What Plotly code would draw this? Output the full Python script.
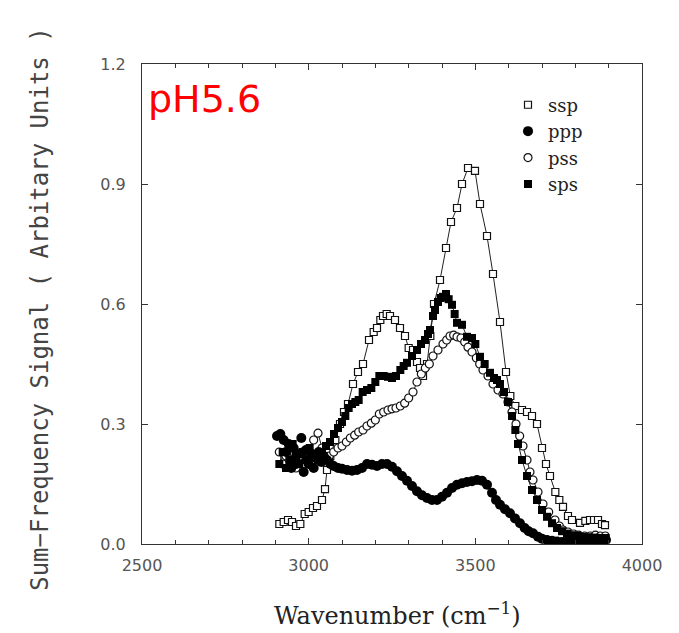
import plotly.graph_objects as go

# ssp (open squares, line)
ssp_x = [2912, 2925, 2938, 2950, 2962, 2975, 2988, 3000, 3013, 3025, 3040, 3049, 3055, 3065, 3080,
         3094, 3106, 3118, 3133, 3148, 3163, 3181, 3195, 3205, 3215, 3223, 3234, 3244, 3259, 3274,
         3289, 3300, 3313, 3325, 3334, 3343, 3355, 3365, 3376, 3394, 3412, 3427, 3445, 3460, 3478,
         3499, 3514, 3535, 3553, 3574, 3592, 3605, 3620, 3640, 3655, 3670, 3685, 3700, 3712, 3724,
         3740, 3752, 3763, 3778, 3790, 3814, 3830, 3844, 3856, 3868, 3880, 3889]
ssp_y = [0.050, 0.055, 0.060, 0.055, 0.045, 0.050, 0.075, 0.080, 0.090, 0.095, 0.110, 0.137, 0.185, 0.220, 0.260,
         0.300, 0.330, 0.350, 0.400, 0.430, 0.450, 0.510, 0.530, 0.540, 0.560, 0.570, 0.575, 0.570, 0.560, 0.540,
         0.520, 0.490, 0.485, 0.455, 0.440, 0.420, 0.450, 0.520, 0.600, 0.660, 0.740, 0.805, 0.840, 0.900, 0.940,
         0.933, 0.850, 0.770, 0.675, 0.555, 0.430, 0.370, 0.345, 0.335, 0.330, 0.320, 0.300, 0.240, 0.200, 0.170,
         0.130, 0.110, 0.093, 0.070, 0.060, 0.053, 0.058, 0.060, 0.060, 0.060, 0.050, 0.047]

# ppp (filled circles, no line)
ppp_x = [2905, 2915, 2925, 2932, 2940, 2948, 2955, 2962, 2970, 2978, 2985, 2992, 3000, 3008, 3015,
         3022, 3030, 3038, 3045, 3055, 3065, 3075, 3088, 3100, 3115, 3130, 3145, 3160, 3175, 3190,
         3205, 3220, 3235, 3250, 3265, 3280, 3295, 3310, 3325, 3340, 3355, 3370, 3385, 3400, 3415,
         3430, 3445, 3460, 3475, 3490, 3505, 3520, 3535, 3550, 3562, 3574, 3589, 3604, 3619, 3634,
         3648, 3660, 3673, 3688, 3700, 3715, 3730, 3745, 3760, 3775, 3790, 3805, 3820, 3835, 3850,
         3865, 3880, 3892]
ppp_y = [0.270, 0.275, 0.260, 0.230, 0.250, 0.190, 0.240, 0.200, 0.225, 0.265, 0.180, 0.235, 0.200, 0.225, 0.190,
         0.215, 0.230, 0.205, 0.220, 0.210, 0.200, 0.195, 0.190, 0.188, 0.185, 0.183, 0.185, 0.190, 0.200, 0.198,
         0.195, 0.200, 0.200, 0.193, 0.182, 0.170, 0.158, 0.145, 0.132, 0.122, 0.115, 0.110, 0.110, 0.118, 0.128,
         0.140, 0.148, 0.152, 0.155, 0.157, 0.160, 0.158, 0.148, 0.128, 0.110, 0.098, 0.087, 0.077, 0.064, 0.052,
         0.040, 0.032, 0.027, 0.018, 0.013, 0.010, 0.008, 0.006, 0.005, 0.006, 0.005, 0.007, 0.008, 0.006, 0.008,
         0.010, 0.012, 0.010]

# pss (open circles, line)
pss_x = [2912, 2922, 2932, 2942, 2952, 2962, 2972, 2982, 2992, 3003, 3015, 3028, 3040, 3050, 3062,
         3075, 3088, 3100, 3113, 3125, 3138, 3150, 3163, 3175, 3188, 3200, 3212, 3225, 3238, 3250,
         3262, 3275, 3288, 3300, 3313, 3325, 3338, 3350, 3362, 3373, 3388, 3403, 3414, 3424, 3435,
         3445, 3457, 3468, 3478, 3490, 3503, 3513, 3523, 3538, 3553, 3568, 3583, 3598, 3610, 3622,
         3633, 3643, 3655, 3664, 3673, 3688, 3703, 3720, 3739, 3752, 3763, 3778, 3795, 3810, 3828,
         3845, 3860, 3875, 3890]
pss_y = [0.230, 0.200, 0.220, 0.240, 0.210, 0.190, 0.220, 0.230, 0.210, 0.230, 0.260, 0.277, 0.240, 0.215, 0.220,
         0.230, 0.240, 0.245, 0.255, 0.265, 0.272, 0.280, 0.285, 0.295, 0.302, 0.310, 0.325, 0.330, 0.335, 0.338,
         0.340, 0.345, 0.352, 0.365, 0.380, 0.405, 0.425, 0.440, 0.450, 0.470, 0.485, 0.500, 0.510, 0.520, 0.522,
         0.518, 0.515, 0.505, 0.492, 0.480, 0.465, 0.450, 0.435, 0.420, 0.400, 0.385, 0.375, 0.355, 0.330, 0.300,
         0.270, 0.245, 0.210, 0.180, 0.160, 0.130, 0.100, 0.080, 0.060, 0.045, 0.035, 0.030, 0.025, 0.022, 0.020,
         0.020, 0.022, 0.020, 0.020]

# sps (filled squares, line)
sps_x = [2912, 2922, 2932, 2942, 2952, 2962, 2972, 2982, 2992, 3003, 3015, 3028, 3040, 3052, 3064,
         3076, 3088, 3100, 3110, 3120, 3130, 3140, 3150, 3162, 3175, 3188, 3200, 3212, 3225, 3238,
         3250, 3262, 3275, 3285, 3295, 3310, 3325, 3337, 3349, 3358, 3364, 3373, 3379, 3388, 3396,
         3403, 3412, 3420, 3430, 3438, 3445, 3460, 3475, 3490, 3500, 3514, 3528, 3544, 3556, 3565,
         3574, 3586, 3598, 3610, 3620, 3628, 3640, 3655, 3670, 3685, 3700, 3715, 3730, 3745, 3760,
         3775, 3790, 3805, 3820, 3840, 3860, 3875, 3890]
sps_y = [0.200, 0.230, 0.190, 0.210, 0.250, 0.220, 0.200, 0.230, 0.210, 0.240, 0.220, 0.210, 0.230, 0.245, 0.255,
         0.275, 0.290, 0.305, 0.320, 0.340, 0.350, 0.355, 0.360, 0.380, 0.385, 0.390, 0.405, 0.420, 0.420, 0.418,
         0.415, 0.420, 0.435, 0.445, 0.453, 0.470, 0.485, 0.500, 0.510, 0.525, 0.535, 0.570, 0.585, 0.605, 0.615,
         0.618, 0.625, 0.612, 0.598, 0.575, 0.553, 0.548, 0.518, 0.515, 0.500, 0.468, 0.450, 0.428, 0.415, 0.410,
         0.400, 0.380, 0.355, 0.320, 0.285, 0.250, 0.210, 0.170, 0.135, 0.110, 0.085, 0.068, 0.052, 0.040, 0.032,
         0.026, 0.022, 0.020, 0.018, 0.017, 0.016, 0.015, 0.015]

y_ticks = [0, 0.3, 0.6, 0.9, 1.2]
y_labels = ["0.0", "0.3", "0.6", "0.9", "1.2"]
x_ticks = [2500, 3000, 3500, 4000]

fig = go.Figure()

# connecting lines (not in legend)
for xs, ys in [(ssp_x, ssp_y), (pss_x, pss_y), (sps_x, sps_y)]:
    fig.add_trace(go.Scatter(x=xs, y=ys, mode='lines', line=dict(color='#222', width=1),
                             showlegend=False, hoverinfo='skip'))

fig.add_trace(go.Scatter(
    x=ssp_x, y=ssp_y, mode='markers', name='ssp', legendrank=1, legendgroup='a',
    marker=dict(symbol='square', size=7, color='white', line=dict(color='#111', width=1.2))))
fig.add_trace(go.Scatter(
    x=pss_x, y=pss_y, mode='markers', name='pss', legendrank=3, legendgroup='c',
    marker=dict(symbol='circle', size=8, color='white', line=dict(color='#111', width=1.2))))
fig.add_trace(go.Scatter(
    x=sps_x, y=sps_y, mode='markers', name='sps', legendrank=4, legendgroup='d',
    marker=dict(symbol='square', size=8, color='#000', line=dict(color='#000', width=0))))
fig.add_trace(go.Scatter(
    x=ppp_x, y=ppp_y, mode='markers', name='ppp', legendrank=2, legendgroup='b',
    marker=dict(symbol='circle', size=10, color='#000', line=dict(color='#000', width=0))))

axis_common = dict(
    showline=True, linecolor='#333', linewidth=1, mirror='ticks',
    ticks='inside', ticklen=6, tickcolor='#333', showgrid=False, zeroline=False,
    tickfont=dict(family='DejaVu Sans', size=16, color='#555'),
)

fig.update_xaxes(range=[2500, 4000], tickvals=x_ticks, ticklabelstandoff=7,
                 minor=dict(dtick=100, ticks='inside', ticklen=4, tickcolor='#333', showgrid=False),
                 **axis_common)
fig.update_yaxes(range=[0, 1.2], tickvals=y_ticks, ticktext=y_labels, ticklabelstandoff=12,
                 **axis_common)

fig.add_annotation(text='pH5.6', xref='paper', yref='paper', x=0.007, y=0.978,
                   xanchor='left', yanchor='top', showarrow=False,
                   font=dict(family='DejaVu Sans', size=38, color='red'))
fig.add_annotation(text='Sum\u2212Frequency Signal ( Arbitary Units )', textangle=-90,
                   xref='paper', yref='paper', x=-0.204, y=0.49, showarrow=False,
                   xanchor='center', yanchor='middle',
                   font=dict(family='DejaVu Sans Mono', size=24, color='#444'))
fig.add_annotation(text='Wavenumber (cm<sup>\u22121</sup>)', xref='paper', yref='paper',
                   x=0.51, y=-0.145, showarrow=False, xanchor='center', yanchor='middle',
                   font=dict(family='DejaVu Serif', size=24, color='#222'))

# the page adds an 8 px body margin, so margins are reduced to keep the plot box in place
fig.update_layout(
    width=679, height=633,
    margin=dict(l=134, r=45, t=56, b=97),
    plot_bgcolor='white', paper_bgcolor='white',
    showlegend=True,
    legend=dict(x=0.732, y=0.953, xanchor='left', yanchor='top', bgcolor='rgba(0,0,0,0)',
                font=dict(family='DejaVu Serif', size=18, color='#222'), tracegroupgap=0),
)

fig.write_html("out.html")
